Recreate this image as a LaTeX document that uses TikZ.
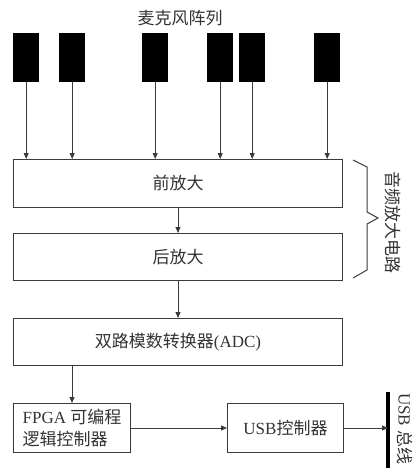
\documentclass[tikz,border=0pt]{standalone}
\usepackage{fontspec}
\setmainfont{Liberation Serif}
\newfontfamily\cjk{Noto Sans CJK SC}
\usetikzlibrary{arrows.meta}
\definecolor{ln}{HTML}{3A3A3A}
\definecolor{tx}{HTML}{333333}
\begin{document}
\begin{tikzpicture}[x=1pt,y=-1pt,
  font=\fontsize{17}{22}\selectfont,
  box/.style={draw=ln, line width=1pt, inner sep=0pt, anchor=north west, text=tx},
  mic/.style={fill=black, inner sep=0pt, minimum width=26pt, minimum height=49pt, anchor=north west},
  arr/.style={draw=ln, line width=0.8pt, -{Triangle[length=6pt,width=5pt]}},
  lbl/.style={text=tx, inner sep=0pt}]
\useasboundingbox (0,0) rectangle (414,468);

\node[lbl] (title) at (180,18) {\cjk 麦克风阵列};

\node[mic] (m1) at (13,33) {};
\node[mic] (m2) at (59,33) {};
\node[mic] (m3) at (142,33) {};
\node[mic] (m4) at (207,33) {};
\node[mic] (m5) at (239,33) {};
\node[mic] (m6) at (314,33) {};

\node[box, minimum width=329pt, minimum height=48pt] (pre) at (13,159) {\cjk 前放大};
\node[box, minimum width=329pt, minimum height=47pt] (post) at (13,233) {\cjk 后放大};
\node[box, minimum width=329pt, minimum height=47pt] (adc) at (13,318) {{\cjk 双路模数转换器}(ADC)};
\node[box, minimum width=117pt, minimum height=49pt, align=left] (fpga) at (13,403)
  {FPGA {\cjk 可编程}\\{\cjk 逻辑控制器}};
\node[box, minimum width=116pt, minimum height=49pt] (usb) at (227,403) {USB{\cjk 控制器}};

\foreach \m in {m1,m2,m3,m4,m5,m6}
  \draw[arr] (\m.south) -- (\m.south |- pre.north);

\draw[arr] (pre.south) -- (post.north);
\draw[arr] (post.south) -- (adc.north);
\draw[arr] (fpga.north |- adc.south) -- (fpga.north);
\draw[arr] (fpga.east) -- (usb.west);

\coordinate (bt) at (388,392);
\coordinate (bb) at (388,468);
\draw[line width=3.5pt, black] (bt) -- (bb);
\draw[arr] (usb.east) -- (usb.east -| bt);
\node[lbl, rotate=-90, anchor=west] (buslbl) at (405,393) {USB {\cjk 总线}};

\draw[draw=ln, line width=1pt] (353,160) -- (367,167) -- (367,212) -- (378,218) -- (367,224) -- (367,270) -- (353,278);
\node[lbl, rotate=-90] (amp) at (393,222) {\cjk 音频放大电路};
\end{tikzpicture}
\end{document}
